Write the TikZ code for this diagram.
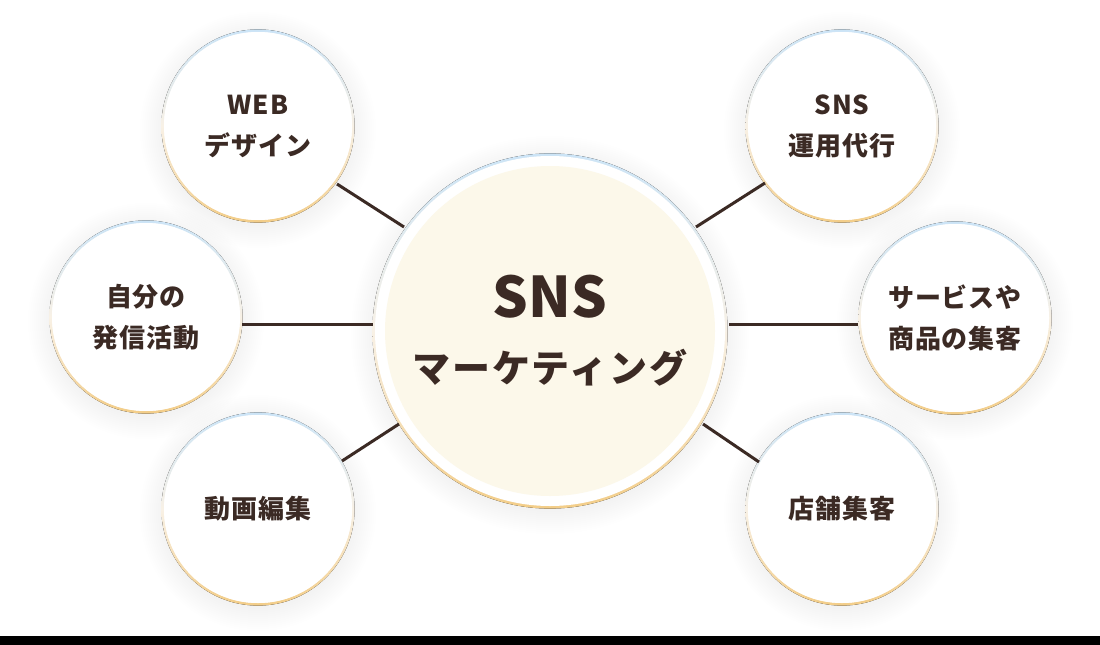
\documentclass[tikz,border=0pt]{standalone}
\usepackage{fontspec}
\newfontfamily\cjk{Noto Sans CJK JP}[LetterSpace=3]
\newfontfamily\cjkc{Noto Sans CJK JP}[LetterSpace=5]
\newfontfamily\cjkl{Noto Sans CJK JP}[LetterSpace=1]
\usetikzlibrary{backgrounds}
\definecolor{ink}{HTML}{3B2A24}
\definecolor{cream}{HTML}{FCF8EA}
\definecolor{ringblue}{HTML}{CCE4F6}
\definecolor{ringorange}{HTML}{F3CD88}
\definecolor{ringmid}{HTML}{F8F1E6}
\begin{document}
\begin{tikzpicture}[x=1pt,y=-1pt,
  bubble/.style={circle, fill=white, minimum size=188pt, inner sep=0pt, align=center, text=ink,
    font=\cjk\bfseries\fontsize{26}{41}\selectfont},
  hub/.style={circle, fill=cream, minimum size=330pt, inner sep=0pt, align=center, text=ink,
    font=\cjkc\bfseries\fontsize{38}{65}\selectfont},
  link/.style={draw=ink, line width=3pt},
  ring/.style={top color=ringblue, bottom color=ringorange, middle color=ringmid},
  softshadow/.style={black, opacity=0.0035}]
\useasboundingbox (0,0) rectangle (1100,645);

\node[hub] (c) at (550,331) {{\cjkl\fontsize{56}{56}\selectfont SNS}\\マーケティング};

\node[bubble] (web) at (258,126) {WEB\\デザイン};
\node[bubble] (self) at (146,317) {自分の\\発信活動};
\node[bubble] (movie) at (258,509) {動画編集};
\node[bubble] (ops) at (842,126) {SNS\\運用代行};
\node[bubble] (promo) at (955,318) {サービスや\\商品の集客};
\node[bubble] (store) at (842,509) {店舗集客};

\begin{scope}[on background layer]
  \fill[white] (0,0) rectangle (1100,636);
  \fill[black] (0,636) rectangle (1100,645);
  \foreach \n/\r in {web/94, self/94, movie/94, ops/94, promo/94, store/94, c/175} {
    \foreach \i in {2,4,...,24} {
      \fill[softshadow] ([yshift=-4pt]\n.center) circle ({\r+\i});
    }
    \fill[ring] (\n.center) circle ({\r+2.6});
    \fill[white] (\n.center) circle (\r);
  }
\end{scope}

\coordinate (wa) at (337,184); \coordinate (wb) at (404,227);
\coordinate (sa) at (242,324); \coordinate (sb) at (373,324);
\coordinate (ma) at (342,461); \coordinate (mb) at (399,424);
\coordinate (oa) at (765,183); \coordinate (ob) at (696,227);
\coordinate (pa) at (858,324); \coordinate (pb) at (729,324);
\coordinate (ta) at (759,462); \coordinate (tb) at (703,424);
\draw[link] (wa) -- (wb);
\draw[link] (sa) -- (sb);
\draw[link] (ma) -- (mb);
\draw[link] (oa) -- (ob);
\draw[link] (pa) -- (pb);
\draw[link] (ta) -- (tb);
\end{tikzpicture}
\end{document}
